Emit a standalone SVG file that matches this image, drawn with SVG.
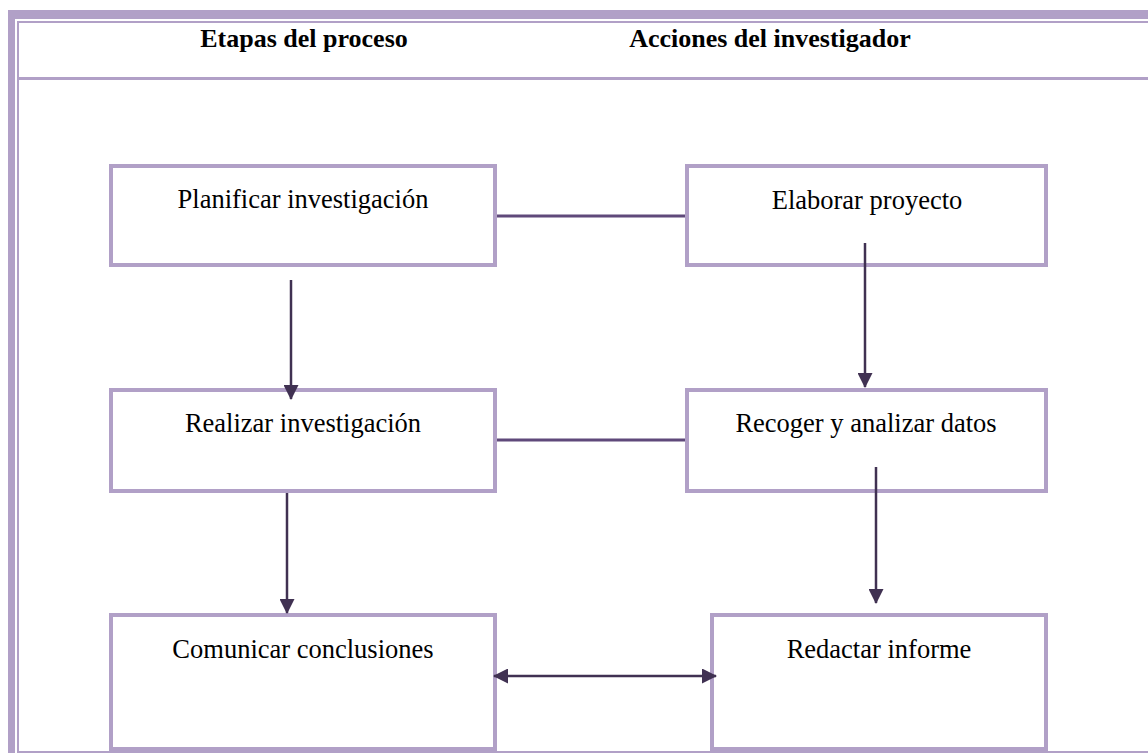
<svg xmlns="http://www.w3.org/2000/svg" width="1148" height="753" viewBox="0 0 1148 753">
  <style>
    .frame { fill: #b1a0c7; }
    .box { fill: #ffffff; stroke: #b1a0c7; stroke-width: 4; }
    .hdr { font-family: "Liberation Serif", "Times New Roman", serif; font-weight: bold; font-size: 26px; fill: #000; text-anchor: middle; }
    .lbl { font-family: "Liberation Serif", "Times New Roman", serif; font-size: 26.5px; fill: #000; text-anchor: middle; }
    .link { stroke: #5f497a; stroke-width: 3; fill: none; }
    .arrow { stroke: #403152; stroke-width: 2.5; fill: none; }
  </style>
  <defs>
    <marker id="ah" viewBox="0 0 15 15" refX="14" refY="7.5" markerWidth="15" markerHeight="15" markerUnits="userSpaceOnUse" orient="auto-start-reverse">
      <path d="M0,0 L15,7.5 L0,15 z" fill="#403152"/>
    </marker>
  </defs>
  <rect width="1148" height="753" fill="#ffffff"/>
  <g id="frame">
    <rect class="frame" x="8" y="10" width="1140" height="9"/>
    <rect class="frame" x="8" y="10" width="7" height="743"/>
    <rect class="frame" x="17" y="21" width="1131" height="2"/>
    <rect class="frame" x="17" y="21" width="2" height="732"/>
    <rect class="frame" x="19" y="77" width="1129" height="3"/>
    <rect class="frame" x="17" y="751" width="1131" height="2"/>
  </g>
  <g id="headers">
    <text class="hdr" x="304" y="47">Etapas del proceso</text>
    <text class="hdr" x="770" y="47">Acciones del investigador</text>
  </g>
  <g id="node-planificar">
    <rect class="box" x="111" y="166" width="384" height="99"/>
    <text class="lbl" x="303" y="208">Planificar investigación</text>
  </g>
  <g id="node-elaborar">
    <rect class="box" x="687" y="166" width="359" height="99"/>
    <text class="lbl" x="867" y="209">Elaborar proyecto</text>
  </g>
  <g id="node-realizar">
    <rect class="box" x="111" y="390" width="384" height="101"/>
    <text class="lbl" x="303" y="432">Realizar investigación</text>
  </g>
  <g id="node-recoger">
    <rect class="box" x="687" y="390" width="359" height="101"/>
    <text class="lbl" x="866" y="432">Recoger y analizar datos</text>
  </g>
  <g id="node-comunicar">
    <rect class="box" x="111" y="615" width="384" height="134"/>
    <text class="lbl" x="303" y="658">Comunicar conclusiones</text>
  </g>
  <g id="node-redactar">
    <rect class="box" x="712" y="615" width="334" height="134"/>
    <text class="lbl" x="879" y="658">Redactar informe</text>
  </g>
  <g id="connectors">
    <line class="link" x1="497" y1="216" x2="685" y2="216"/>
    <line class="link" x1="497" y1="440" x2="685" y2="440"/>
    <line class="arrow" x1="291" y1="280" x2="291" y2="399" marker-end="url(#ah)"/>
    <line class="arrow" x1="865" y1="243" x2="865" y2="387" marker-end="url(#ah)"/>
    <line class="arrow" x1="287" y1="493" x2="287" y2="613" marker-end="url(#ah)"/>
    <line class="arrow" x1="876" y1="467" x2="876" y2="603" marker-end="url(#ah)"/>
    <line class="arrow" x1="494" y1="676" x2="716" y2="676" marker-start="url(#ah)" marker-end="url(#ah)"/>
  </g>
</svg>
